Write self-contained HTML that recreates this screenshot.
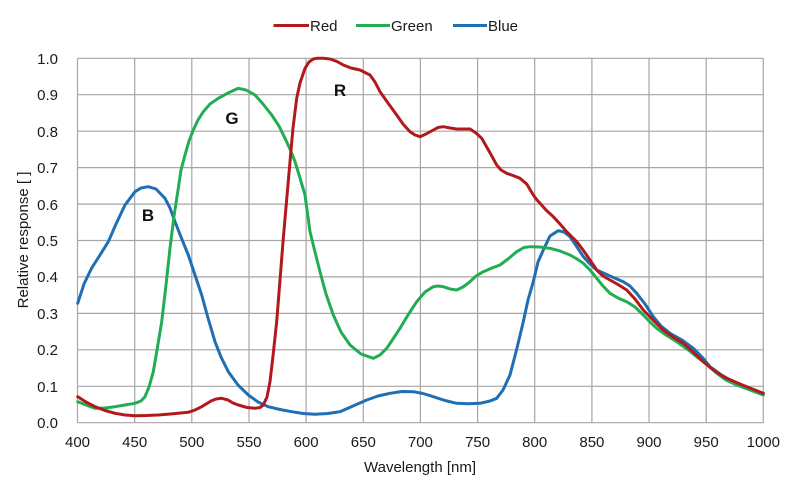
<!DOCTYPE html>
<html><head><meta charset="utf-8"><style>
html,body{margin:0;padding:0;background:#fff;}
svg{display:block;font-family:"Liberation Sans",Arial,sans-serif;}
</style></head><body>
<svg width="808" height="488" viewBox="0 0 808 488" xmlns="http://www.w3.org/2000/svg">
<rect width="808" height="488" fill="#fff"/>
<g stroke="#a6a6a6" stroke-width="1.2" fill="none">
<line x1="77.5" y1="58.3" x2="763.3" y2="58.3"/>
<line x1="77.5" y1="94.7" x2="763.3" y2="94.7"/>
<line x1="77.5" y1="131.2" x2="763.3" y2="131.2"/>
<line x1="77.5" y1="167.6" x2="763.3" y2="167.6"/>
<line x1="77.5" y1="204.1" x2="763.3" y2="204.1"/>
<line x1="77.5" y1="240.5" x2="763.3" y2="240.5"/>
<line x1="77.5" y1="276.9" x2="763.3" y2="276.9"/>
<line x1="77.5" y1="313.4" x2="763.3" y2="313.4"/>
<line x1="77.5" y1="349.8" x2="763.3" y2="349.8"/>
<line x1="77.5" y1="386.3" x2="763.3" y2="386.3"/>
<line x1="77.5" y1="422.7" x2="763.3" y2="422.7"/>
<line x1="77.5" y1="58.3" x2="77.5" y2="422.7"/>
<line x1="134.7" y1="58.3" x2="134.7" y2="422.7"/>
<line x1="191.8" y1="58.3" x2="191.8" y2="422.7"/>
<line x1="249.0" y1="58.3" x2="249.0" y2="422.7"/>
<line x1="306.1" y1="58.3" x2="306.1" y2="422.7"/>
<line x1="363.3" y1="58.3" x2="363.3" y2="422.7"/>
<line x1="420.4" y1="58.3" x2="420.4" y2="422.7"/>
<line x1="477.6" y1="58.3" x2="477.6" y2="422.7"/>
<line x1="534.7" y1="58.3" x2="534.7" y2="422.7"/>
<line x1="591.9" y1="58.3" x2="591.9" y2="422.7"/>
<line x1="649.0" y1="58.3" x2="649.0" y2="422.7"/>
<line x1="706.2" y1="58.3" x2="706.2" y2="422.7"/>
<line x1="763.3" y1="58.3" x2="763.3" y2="422.7"/>
</g>
<g font-size="15" fill="#1a1a1a" text-anchor="end">
<text x="58" y="64">1.0</text>
<text x="58" y="100">0.9</text>
<text x="58" y="137">0.8</text>
<text x="58" y="173">0.7</text>
<text x="58" y="210">0.6</text>
<text x="58" y="246">0.5</text>
<text x="58" y="282">0.4</text>
<text x="58" y="319">0.3</text>
<text x="58" y="355">0.2</text>
<text x="58" y="392">0.1</text>
<text x="58" y="428">0.0</text>
</g>
<g font-size="15" fill="#1a1a1a" text-anchor="middle">
<text x="77.5" y="447">400</text>
<text x="134.7" y="447">450</text>
<text x="191.8" y="447">500</text>
<text x="249.0" y="447">550</text>
<text x="306.1" y="447">600</text>
<text x="363.3" y="447">650</text>
<text x="420.4" y="447">700</text>
<text x="477.6" y="447">750</text>
<text x="534.7" y="447">800</text>
<text x="591.9" y="447">850</text>
<text x="649.0" y="447">900</text>
<text x="706.2" y="447">950</text>
<text x="763.3" y="447">1000</text>
<text x="420" y="472">Wavelength [nm]</text>
<text transform="translate(28,240) rotate(-90)">Relative response [ ]</text>
</g>
<g fill="none" stroke-width="3" stroke-linejoin="round" stroke-linecap="round">
<polyline stroke="#1f6fb2" points="77.7,303.3 84,284 91.7,268 100,255 108.3,241.7 116,224 125,205 135,191.7 141,188 148.3,186.7 156,189 165,198.3 170,208 175,221.7 181,237 188.3,255 195,275 201.7,295 208,318 215,341.7 221,357 228.3,371.7 238,385 248.3,395 258,402 268.3,406.7 280,409.5 291.7,411.7 303,413.5 315,414.3 328,413.5 340,411.7 353,406 366.7,400 378,396 390,393.3 402,391.5 413.3,391.7 423,393.5 433.3,396.7 445,400.5 456.7,403.3 468,403.8 480,403.3 490,401 496.7,398.3 503,390 510,375 517,348 523.3,321.7 528,300 533.3,281.7 538,262 543.3,250 550,236 558.3,230.7 564,232 570,236.7 577,247 583.3,256.7 590,264 596.7,270 610,276 623.3,281.7 630,286 636.7,293.3 645,304 653.3,316.7 661,326 670,333.3 682,340 693.3,348.3 702,357 710,366.7 720,374 730,380 746,387 763.3,393.3"/>
<polyline stroke="#22ad52" points="77.7,401.7 86,405 95,408.3 105,408 115,406.7 125,405 135,403.3 141,401 145,396.7 149,387 153.3,371.7 157,350 161.7,321.7 166,285 170,248.3 174,216 178.3,188.3 181,170 185,155 189,141 193.3,130 198,120 203.3,111.7 210,104 218.3,98.3 228,93 238.3,88.3 246,90 255,95 263,104 271.7,115 279,126 285,138.3 290,149 295,161.7 300,178 305,195 310,231.7 315,252 320,271.7 326,294 333.3,315 341,332 350,345 361,354 373.3,358.3 380,355 386.7,348.3 393,339 400,328.3 408,315 416.7,301.7 425,292 433.3,286.7 438,286 443.3,286.7 450,289 456.7,290 463,287 470,281.7 476,276 483.3,271.7 492,268 500,265 508,259 516.7,251.7 524,247.5 530,246.7 540,247 550,248.3 560,251 570,255 577,259 583.3,263.3 590,270 596.7,278.3 603,286 610,293.3 618,298 626.7,301.7 635,307 643.3,315 650,322 656.7,328.3 666,335 676.7,341.7 687,349 696.7,356.7 706,364 716.7,373.3 726,380 736.7,385 750,390 763.3,395"/>
<polyline stroke="#b3191c" points="77.7,396.7 86,402 95,406.7 105,410.5 115,413.3 125,415 135,415.7 146,415.5 158.3,415 173,413.8 188.3,412.3 195,410 201.7,406.7 211,401 216,399 221.7,398.3 228,400 233,403 238.3,405 247,407.5 255,408.3 260,407.5 263.3,405 267,397 270,381.7 273,356 276.7,321.7 280,280 283.3,238.3 287,196 290,161.7 293,128 296.7,98.3 300,83 305,68.3 309,62 313.3,59 316.7,58.3 323,58.3 330,59 337,61.5 343.3,65 351,68 360,70 366,73 370,75 375,82 380,91.7 388,103 396.7,115 403,124 410,131.7 415,135 420,136.7 427,133.5 433.3,130 438,127.5 443.3,126.7 450,128 456.7,129 463,129 470,129 476,133 481.7,138.3 489,151 496.7,165 501,170 506.7,173.3 513,175.5 520,178.3 526.7,184 533.3,195 537,200 540,203.3 546,210 553.3,216.7 560,224 566.7,231.7 572,237 576.7,241.7 582,248.5 590,260 596.7,270 603,276 610,280 618,284.5 626.7,290 635,299 643.3,310 653,320 663.3,330 673,337 683.3,343.3 693,352 703.3,361.7 713,369.5 723.3,376.7 740,384 763.3,393.3"/>
</g>
<g font-size="17" font-weight="bold" fill="#111" text-anchor="middle">
<text x="340" y="96">R</text>
<text x="232" y="124">G</text>
<text x="148" y="221">B</text>
</g>
<g stroke-width="3" stroke-linecap="butt">
<line x1="273.5" y1="25.5" x2="309" y2="25.5" stroke="#b3191c"/>
<line x1="356" y1="25.5" x2="390" y2="25.5" stroke="#22ad52"/>
<line x1="453" y1="25.5" x2="487" y2="25.5" stroke="#1f6fb2"/>
</g>
<g font-size="15" fill="#1a1a1a">
<text x="310" y="31">Red</text>
<text x="391" y="31">Green</text>
<text x="488" y="31">Blue</text>
</g>
</svg>
</body></html>
